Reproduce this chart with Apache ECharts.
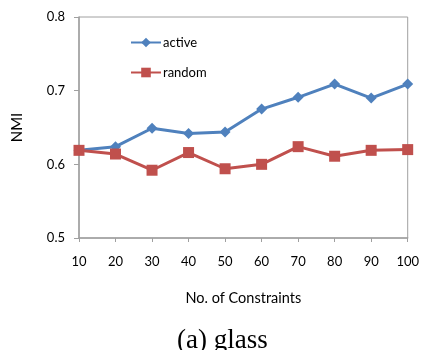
<!DOCTYPE html>
<html>
<head>
<meta charset="utf-8">
<script src="https://cdn.jsdelivr.net/npm/echarts@6/dist/echarts.min.js"></script>
<style>
  html, body { margin: 0; padding: 0; background: #fff; }
  #chart { width: 422px; height: 350px; }
</style>
</head>
<body>
<div id="chart"></div>
<script>
  // data
  const constraints = ['10', '20', '30', '40', '50', '60', '70', '80', '90', '100']
  const active = [0.619, 0.624, 0.649, 0.642, 0.644, 0.675, 0.691, 0.709, 0.690, 0.709]
  const random = [0.619, 0.614, 0.592, 0.616, 0.594, 0.600, 0.624, 0.611, 0.619, 0.620]

  const labelFont = 'Lato, "Open Sans", sans-serif'
  const axisGrey = '#a0a0a0'

  const mChart = echarts.init(document.getElementById('chart'))
  const option = {
    animation: false,
    title: {
      text: '(a) glass',
      left: 172,
      top: 322,
      textStyle: {
        fontFamily: '"Liberation Serif", serif',
        fontSize: 27,
        fontWeight: 'normal',
        color: '#000'
      }
    },
    legend: {
      orient: 'vertical',
      left: 125,
      top: 31,
      itemWidth: 30,
      itemHeight: 12,
      itemGap: 17,
      textStyle: { color: '#000', fontSize: 13, fontFamily: labelFont, padding: [0, 0, 0, -3] }
    },
    grid: {
      left: 79,
      right: 10,
      top: 17,
      bottom: 112,
      show: true,
      borderColor: axisGrey,
      borderWidth: 1
    },
    // x 轴
    xAxis: {
      type: 'category',
      data: constraints,
      boundaryGap: false,
      name: 'No. of Constraints',
      nameLocation: 'middle',
      nameGap: 53,
      nameTextStyle: { color: '#000', fontSize: 14.5, fontFamily: labelFont },
      axisLine: { lineStyle: { color: axisGrey, width: 1.5 } },
      axisTick: { show: true, length: 4, lineStyle: { color: axisGrey } },
      axisLabel: { color: '#000', fontSize: 13, fontFamily: labelFont, margin: 17 },
      splitLine: { show: false }
    },
    // y 轴
    yAxis: {
      type: 'value',
      min: 0.5,
      max: 0.8,
      interval: 0.1,
      name: 'NMI',
      nameLocation: 'middle',
      nameGap: 54,
      nameTextStyle: { color: '#000', fontSize: 15, fontFamily: labelFont },
      axisLine: { show: true, lineStyle: { color: axisGrey, width: 1.5 } },
      axisTick: { show: true, length: 5, lineStyle: { color: axisGrey } },
      axisLabel: {
        color: '#000', fontSize: 13, fontFamily: labelFont, margin: 14,
        formatter: (v) => v.toFixed(1)
      },
      splitLine: { show: false }
    },
    series: [{
      name: 'active',
      type: 'line',
      data: active,
      symbol: 'diamond',
      symbolSize: 11,
      color: '#4F81BD',
      lineStyle: { width: 3 }
    }, {
      name: 'random',
      type: 'line',
      data: random,
      symbol: 'rect',
      symbolSize: 11,
      color: '#C0504D',
      lineStyle: { width: 3 }
    }]
  }
  mChart.setOption(option)
</script>
</body>
</html>
